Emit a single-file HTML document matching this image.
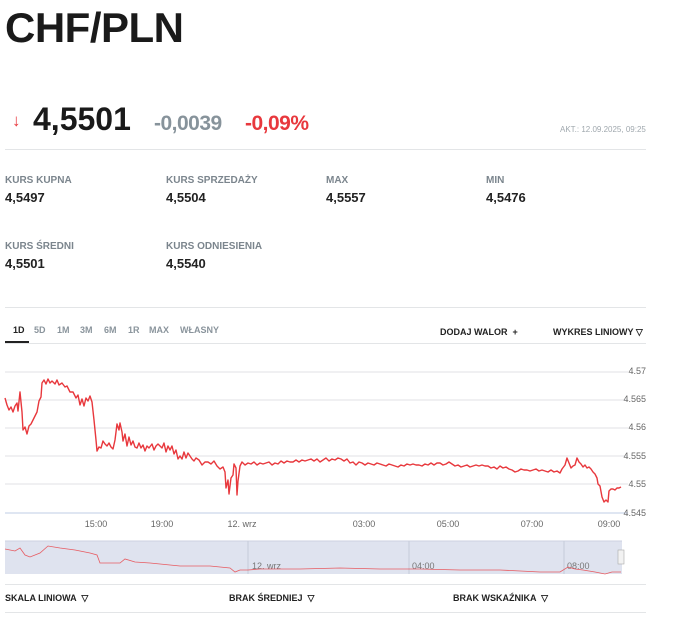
<!DOCTYPE html>
<html><head><meta charset="utf-8"><style>
body{margin:0;width:682px;height:621px;background:#fff;font-family:"Liberation Sans",sans-serif;position:relative;overflow:hidden;color:#222}
.a{position:absolute;white-space:nowrap}
.lab{font-size:10px;color:#7b858d;font-weight:bold}
.val{font-size:13px;font-weight:bold;color:#222}
.hr{position:absolute;left:5px;width:641px;height:1px;background:#e3e5e7}
.tab{font-size:9px;color:#8a949c;font-weight:bold}
.bt{font-size:9px;font-weight:bold;color:#222}
</style></head><body>
<div class="a" style="left:5px;top:4px;font-size:42px;font-weight:bold;color:#1a1a1a;letter-spacing:-0.5px">CHF/PLN</div>
<div class="a" style="left:12px;top:111px;font-size:17px;color:#e8383d;font-weight:bold">↓</div>
<div class="a" style="left:33px;top:101px;font-size:32px;font-weight:bold;color:#1a1a1a">4,5501</div>
<div class="a" style="left:154px;top:112px;font-size:21px;color:#87939b;font-weight:bold;letter-spacing:-0.5px">-0,0039</div>
<div class="a" style="left:245px;top:112px;font-size:21px;color:#e8383d;font-weight:bold;letter-spacing:-0.5px">-0,09%</div>
<div class="a" style="left:560px;top:125px;font-size:8px;color:#a0a8ae">AKT.: 12.09.2025, 09:25</div>
<div class="hr" style="top:149px"></div>
<div class="a lab" style="left:5px;top:175px">KURS KUPNA</div><div class="a val" style="left:5px;top:190px">4,5497</div>
<div class="a lab" style="left:166px;top:175px">KURS SPRZEDAŻY</div><div class="a val" style="left:166px;top:190px">4,5504</div>
<div class="a lab" style="left:326px;top:175px">MAX</div><div class="a val" style="left:326px;top:190px">4,5557</div>
<div class="a lab" style="left:486px;top:175px">MIN</div><div class="a val" style="left:486px;top:190px">4,5476</div>
<div class="a lab" style="left:5px;top:241px">KURS ŚREDNI</div><div class="a val" style="left:5px;top:256px">4,5501</div>
<div class="a lab" style="left:166px;top:241px">KURS ODNIESIENIA</div><div class="a val" style="left:166px;top:256px">4,5540</div>
<div class="hr" style="top:307px"></div>
<div class="a tab" style="left:13px;top:325px;color:#222">1D</div>
<div class="a tab" style="left:34px;top:325px">5D</div>
<div class="a tab" style="left:57px;top:325px">1M</div>
<div class="a tab" style="left:80px;top:325px">3M</div>
<div class="a tab" style="left:104px;top:325px">6M</div>
<div class="a tab" style="left:128px;top:325px">1R</div>
<div class="a tab" style="left:149px;top:325px">MAX</div>
<div class="a tab" style="left:180px;top:325px">WŁASNY</div>
<div class="a" style="left:5px;top:341px;width:24px;height:2px;background:#222"></div>
<div class="a bt" style="left:440px;top:327px">DODAJ WALOR &nbsp;+</div>
<div class="a bt" style="left:553px;top:327px">WYKRES LINIOWY ▽</div>
<div class="hr" style="top:343px"></div>
<svg class="a" style="left:0;top:0" width="682" height="621">
<g stroke="#e6e8eb" stroke-width="1.3">
<line x1="5" x2="628" y1="372" y2="372"/><line x1="5" x2="628" y1="400" y2="400"/><line x1="5" x2="628" y1="428" y2="428"/><line x1="5" x2="628" y1="456" y2="456"/><line x1="5" x2="628" y1="484" y2="484"/><line x1="5" x2="628" y1="513" y2="513" stroke="#ccd6eb"/>
</g>
<g font-size="9" fill="#666" font-family="Liberation Sans" text-anchor="end">
<text x="646" y="374">4.57</text><text x="646" y="402">4.565</text><text x="646" y="430">4.56</text><text x="646" y="459">4.555</text><text x="646" y="487">4.55</text><text x="646" y="516">4.545</text>
</g>
<g font-size="9" fill="#666" font-family="Liberation Sans" text-anchor="middle">
<text x="96" y="527">15:00</text><text x="162" y="527">19:00</text><text x="242" y="527">12. wrz</text><text x="364" y="527">03:00</text><text x="448" y="527">05:00</text><text x="532" y="527">07:00</text><text x="609" y="527">09:00</text>
</g>
<polyline fill="none" stroke="#e8383d" stroke-width="1.4" stroke-linejoin="round" points="5,398 7,405 9,410 11,407 13,412 15,406 17,403 18,411 20,392 22,412 23,430 25,427 27,434 29,426 31,424 34,418 37,412 39,401 41,397 42,383 44,380 46,384 48,379 50,383 52,381 55,384 57,380 59,385 62,383 65,387 67,386 70,392 73,392 76,398 78,395 80,405 82,399 84,406 86,398 88,401 90,396 92,402 94,420 96,440 97,451 99,447 101,448 103,441 105,444 107,446 109,443 111,447 113,449 115,440 117,424 119,430 120,423 122,432 123,441 125,434 127,446 129,437 131,445 133,441 135,447 137,448 139,443 141,448 143,445 145,451 147,446 149,448 152,444 154,450 156,446 158,444 160,446 162,448 164,443 166,452 168,446 170,450 172,446 174,454 176,450 178,459 180,456 182,459 184,452 186,458 188,453 190,456 192,459 194,461 196,458 199,460 202,465 205,462 208,462 211,464 214,461 217,466 220,469 223,467 225,472 226,488 228,480 229,494 231,478 233,475 234,464 236,468 237,495 238,481 240,466 242,462 245,465 248,463 251,464 254,462 257,465 260,463 263,464 266,463 269,462 272,465 275,463 278,464 281,461 284,463 287,461 290,462 293,462 296,460 299,462 302,460 305,461 308,460 311,459 314,461 317,459 320,462 323,460 326,458 329,461 332,459 335,460 338,458 341,459 344,461 347,459 350,463 353,462 356,465 359,462 362,463 365,465 368,463 371,464 374,465 377,463 380,464 383,465 386,466 389,464 392,465 395,466 398,467 401,465 404,466 407,464 410,465 413,464 416,465 419,465 422,466 425,464 428,465 431,463 434,465 437,463 440,463 443,465 446,464 449,462 452,464 455,466 458,465 461,467 464,466 467,465 470,467 473,466 476,465 479,466 482,465 485,466 488,466 491,468 494,467 497,469 500,466 503,468 506,467 509,469 512,470 515,472 518,471 521,469 524,470 527,470 530,471 533,470 536,469 539,471 542,470 545,471 548,472 551,470 554,472 557,471 560,473 562,469 565,465 567,458 569,463 571,468 573,466 575,465 577,458 579,462 581,464 583,467 585,465 587,468 589,467 591,469 593,472 595,474 597,478 598,484 600,486 602,497 604,502 606,500 608,502 609,491 611,489 613,489 615,490 617,488 619,488 621,487"/>
<rect x="5" y="541" width="617" height="33" fill="#dfe3ef"/>
<line x1="5" x2="622" y1="541" y2="541" stroke="#ccd2e0"/>
<line x1="248" x2="248" y1="541" y2="574" stroke="#c6cbd8"/><line x1="409" x2="409" y1="541" y2="574" stroke="#c6cbd8"/><line x1="564" x2="564" y1="541" y2="574" stroke="#c6cbd8"/>
<g font-size="9" fill="#777" font-family="Liberation Sans"><text x="252" y="569">12. wrz</text><text x="412" y="569">04:00</text><text x="567" y="569">08:00</text></g>
<polyline fill="none" stroke="#e8383d" stroke-width="0.8" opacity="0.8" points="5,549 15,551 20,548 25,555 30,557 40,553 48,546 60,548 75,550 90,553 97,555 100,563 110,563 120,563 125,559 135,562 150,563 180,566 210,566 230,568 235,572 240,570 248,570 260,569 300,569 340,568 380,569 420,569 460,570 500,570 540,572 560,572 568,567 575,569 583,570 595,572 605,574 612,572 621,572"/>
<rect x="618" y="550" width="6" height="14" fill="#f2f2f2" stroke="#aaa" stroke-width="0.6"/>
</svg>
<div class="hr" style="top:584px"></div>
<div class="a bt" style="left:5px;top:593px">SKALA LINIOWA &nbsp;▽</div>
<div class="a bt" style="left:229px;top:593px">BRAK ŚREDNIEJ &nbsp;▽</div>
<div class="a bt" style="left:453px;top:593px">BRAK WSKAŹNIKA &nbsp;▽</div>
<div class="hr" style="top:612px"></div>
</body></html>
